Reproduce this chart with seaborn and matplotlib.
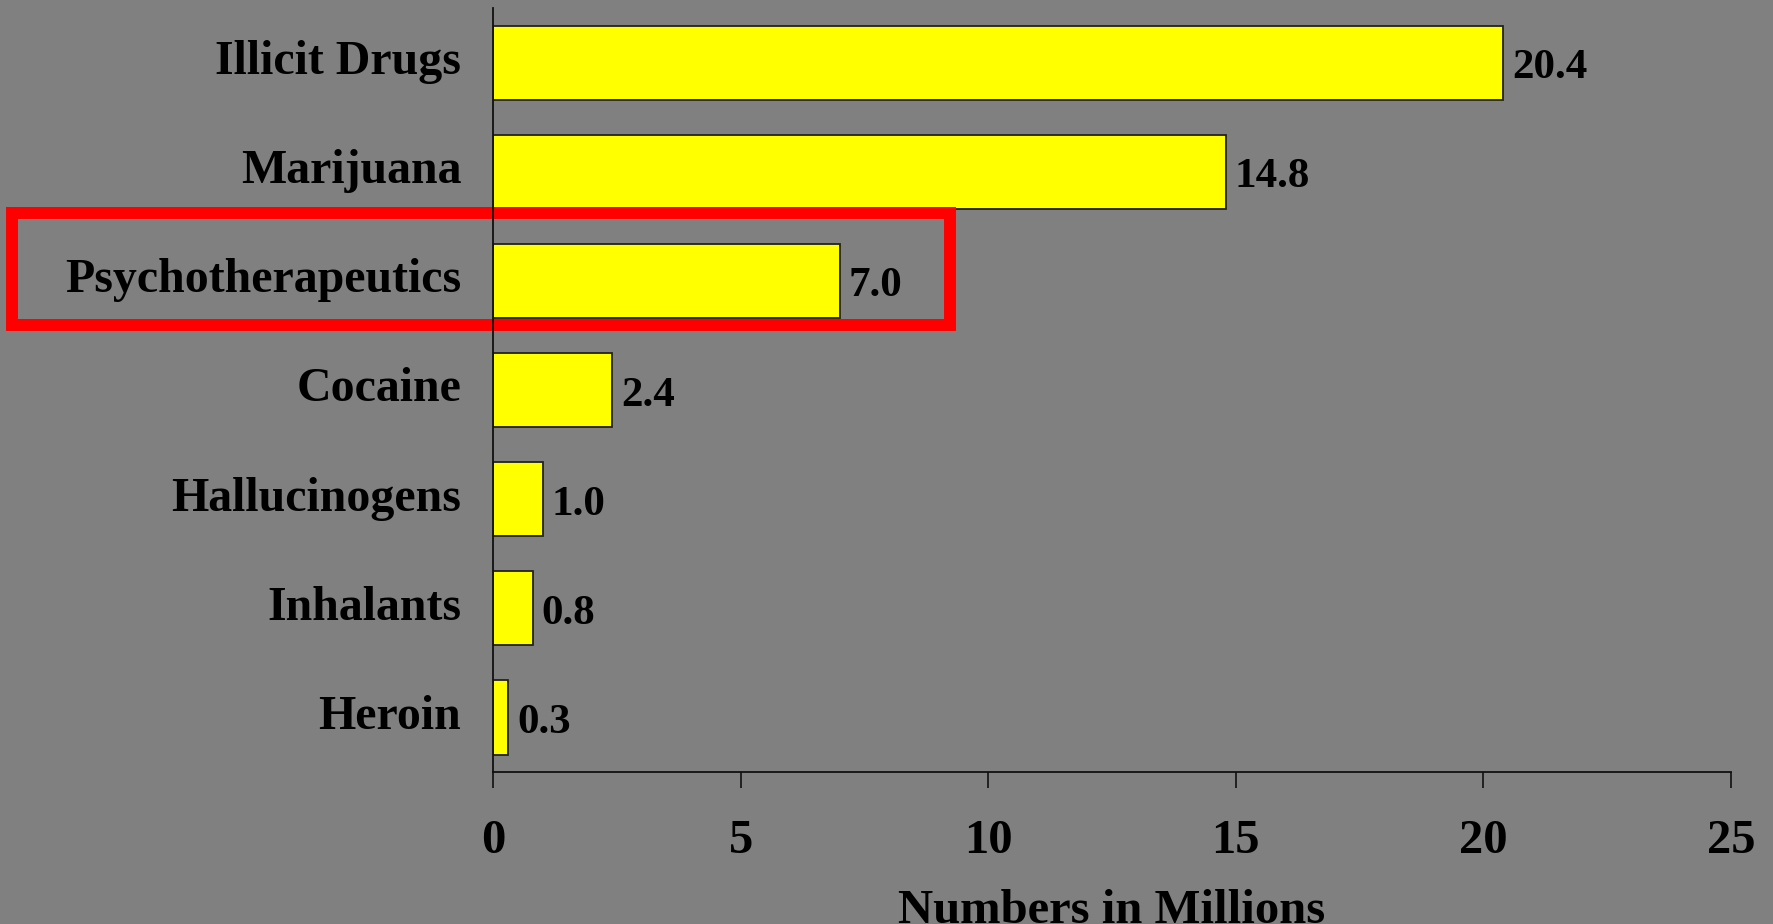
import matplotlib
matplotlib.use("Agg")
import matplotlib.pyplot as plt
from matplotlib.patches import Rectangle
from matplotlib.transforms import ScaledTranslation
import pandas as pd
import seaborn as sns

# Lifetime users by drug category (numbers in millions)
categories = ["Illicit Drugs", "Marijuana", "Psychotherapeutics", "Cocaine",
              "Hallucinogens", "Inhalants", "Heroin"]
values = [20.4, 14.8, 7.0, 2.4, 1.0, 0.8, 0.3]
x_ticks = [0, 5, 10, 15, 20, 25]
highlight = "Psychotherapeutics"

df = pd.DataFrame({"category": categories, "millions": values})

BG = "#808080"
sns.set_style("ticks", {"axes.facecolor": BG, "figure.facecolor": BG,
                        "text.color": "black", "axes.labelcolor": "black",
                        "xtick.color": "black", "ytick.color": "black"})
plt.rcParams["font.family"] = ["Liberation Serif", "DejaVu Serif"]
plt.rcParams["font.weight"] = "bold"

fig = plt.figure(figsize=(17.73, 9.24), dpi=100)
fig.patch.set_facecolor(BG)
ax = fig.add_axes([0.2781, 0.1645, 0.6982, 0.8268])
ax.set_facecolor(BG)

sns.barplot(data=df, x="millions", y="category", orient="h", ax=ax,
            color="#FFFF00", saturation=1, width=0.68,
            edgecolor="#222222", linewidth=1.3)

ax.set_xlim(0, 25)
ax.set_ylim(6.5, -0.5)
ax.set_xticks(x_ticks)
ax.set_xticklabels([str(t) for t in x_ticks], fontsize=35, fontweight="bold",
                   color="black")
ax.tick_params(axis="x", length=11.5, width=1.2, color="#111111", pad=22)
ax.tick_params(axis="y", length=0, pad=23, labelsize=34.5)
shift_up = ScaledTranslation(0, 4 / 72, fig.dpi_scale_trans)
for lbl in ax.get_yticklabels():
    lbl.set_fontweight("bold")
    lbl.set_color("black")
    lbl.set_transform(lbl.get_transform() + shift_up)

ax.set_ylabel("")
ax.set_xlabel("Numbers in Millions", fontsize=35, fontweight="bold",
              labelpad=19, color="black")

for side in ("top", "right"):
    ax.spines[side].set_visible(False)
for side in ("left", "bottom"):
    ax.spines[side].set_color("#111111")
    ax.spines[side].set_linewidth(1.3)

# value labels at the end of each bar
for i, v in enumerate(values):
    ax.annotate(f"{v:.1f}", xy=(v, i), xytext=(6.5, -4),
                textcoords="offset points", va="center", ha="left",
                fontsize=31, fontweight="bold", color="black")

# red frame around the highlighted category
frame = Rectangle((0.00677, 0.6483), 0.5358 - 0.00677, 0.7695 - 0.6483,
                  transform=fig.transFigure, fill=False, edgecolor="#FF0000",
                  linewidth=8.6, clip_on=False, zorder=2)
ax.add_patch(frame)

fig.savefig("out.png", dpi=100, facecolor=BG)
